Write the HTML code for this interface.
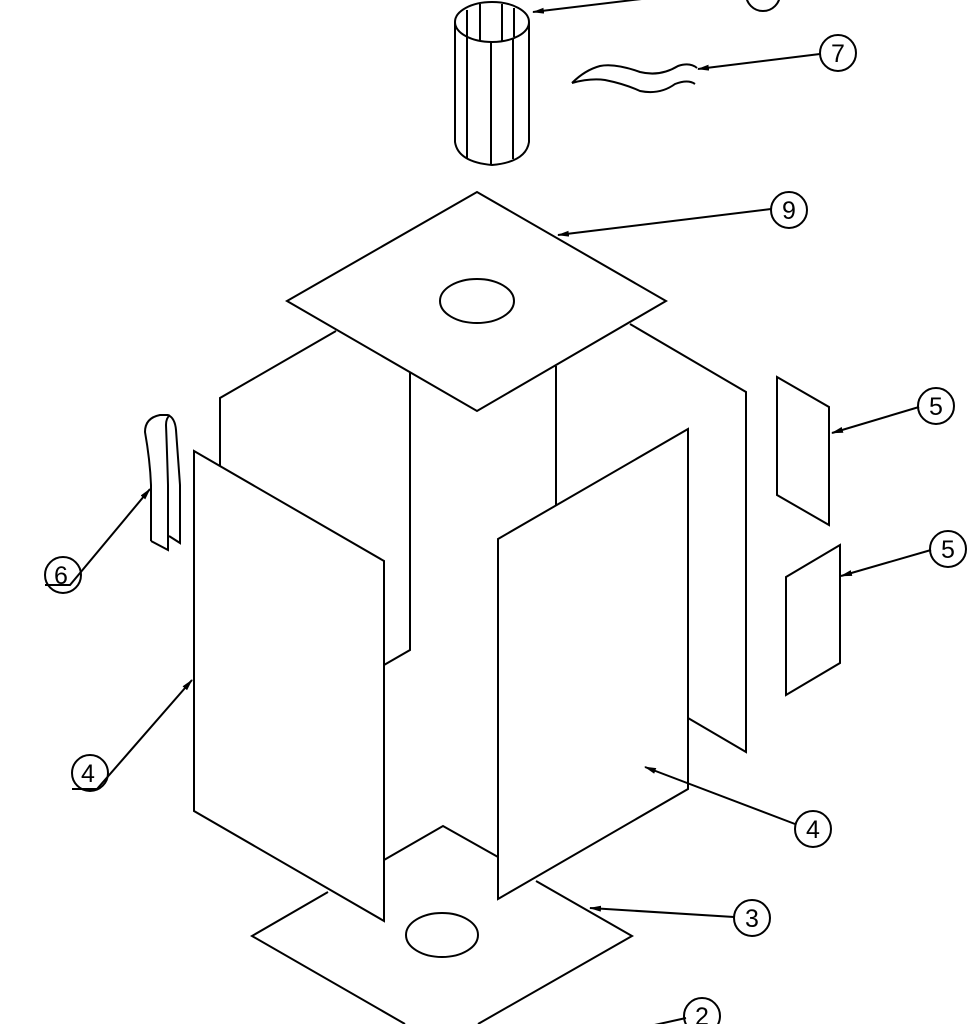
<!DOCTYPE html>
<html><head><style>
html,body{margin:0;padding:0;background:#fff;}
svg{display:block;}
text{font-family:"Liberation Sans",sans-serif;font-size:25px;fill:#000;}
</style></head><body>
<svg width="972" height="1024" viewBox="0 0 972 1024" xmlns="http://www.w3.org/2000/svg">
<defs><marker id="a" markerWidth="12" markerHeight="6" refX="11" refY="3" orient="auto" markerUnits="userSpaceOnUse"><path d="M0,0 L12,3 L0,6 Z" fill="#000"/></marker></defs>
<g fill="none" stroke="#000" stroke-width="2" stroke-linejoin="miter">
<path d="M328,892 L252,936 L405,1024"/>
<path d="M478,1024 L632,936 L536,881"/>
<path d="M384,860 L443,826 L498,857"/>
<ellipse cx="442" cy="935" rx="36" ry="22"/>
<path d="M336,331 L220,398 L220,466"/>
<path d="M410,373 L410,650 L384,665"/>
<path d="M556,366 L556,505"/>
<path d="M630,324 L746,392 L746,752 L688,718"/>
<polygon points="287,301 477,192 666,301 477,411" fill="#fff"/>
<ellipse cx="477" cy="301" rx="37" ry="22"/>
<polygon points="194,451 384,561 384,921 194,811" fill="#fff"/>
<polygon points="498,539 688,429 688,789 498,899" fill="#fff"/>
<polygon points="777,377 829,407 829,525 777,495"/>
<polygon points="786,577 840,545 840,663 786,695"/>
<path d="M151,541 L151,485 Q150,460 145,432 Q145,418 160,415 L168,415 Q175,418 176,430 L180,485 L180,543 L169,536"/>
<path d="M151,541 L168,550 L168,485 Q167,450 166,425 Q166,418 170,415"/>
<ellipse cx="492" cy="22" rx="37" ry="20"/>
<path d="M455,22 L455,142 Q458,162 492,165 Q526,162 529,142 L529,22"/>
<path d="M467,10 L467,37 M480,4 L480,41 M502,4 L502,41 M514,8 L514,37"/>
<path d="M467,37 L467,158 M491,42 L491,165 M513,38 L513,159"/>
<path d="M572,83 Q585,70 600,66 Q615,63 640,72 Q660,77 678,66 Q690,62 697,68"/>
<path d="M572,83 Q590,78 605,80 Q625,84 640,91 Q660,95 675,84 Q688,79 695,84"/>
<path d="M650,-2 L533,12" marker-end="url(#a)"/>
<path d="M820,54 L698,69" marker-end="url(#a)"/>
<path d="M771,209 L558,235" marker-end="url(#a)"/>
<path d="M919,407 L832,433" marker-end="url(#a)"/>
<path d="M931,550 L841,576" marker-end="url(#a)"/>
<path d="M45,585 L70,585 L150,489" marker-end="url(#a)"/>
<path d="M72,789 L97,789 L192,680" marker-end="url(#a)"/>
<path d="M795,824 L645,767" marker-end="url(#a)"/>
<path d="M734,917 L590,908" marker-end="url(#a)"/>
<path d="M686,1018 L650,1026"/>
<circle cx="763" cy="-6" r="17"/>
<circle cx="838" cy="53" r="18"/>
<circle cx="789" cy="210" r="18"/>
<circle cx="936" cy="406" r="18"/>
<circle cx="948" cy="549" r="18"/>
<circle cx="63" cy="575" r="18"/>
<circle cx="90" cy="773" r="18"/>
<circle cx="813" cy="829" r="18"/>
<circle cx="752" cy="918" r="18"/>
<circle cx="702" cy="1016" r="18"/>
</g>
<g text-anchor="middle">
<text x="838" y="62">7</text>
<text x="789" y="219">9</text>
<text x="936" y="415">5</text>
<text x="948" y="558">5</text>
<text x="61" y="584">6</text>
<text x="88" y="782">4</text>
<text x="813" y="838">4</text>
<text x="752" y="927">3</text>
<text x="702" y="1025">2</text>
</g>
</svg>
</body></html>
